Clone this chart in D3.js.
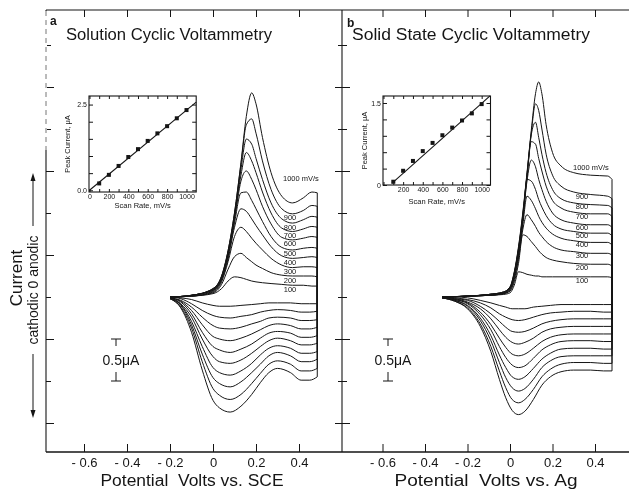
<!DOCTYPE html>
<html>
<head>
<meta charset="utf-8">
<script src="https://cdn.jsdelivr.net/npm/d3@7"></script>
<style>
  body { margin: 0; background: #fff; }
  #chart { will-change: transform; }
  svg { display: block; }
  text { font-family: "Liberation Sans", Arial, sans-serif; fill: #151515; }
</style>
</head>
<body>
<div id="chart"></div>
<script>
// scan rates, mV/s (one trace per rate in each panel)
const rates = [100, 200, 300, 400, 500, 600, 700, 800, 900, 1000]

// panel a: solution CV, potential grid (V vs SCE) and current rows (uA)
const fwdGridA = [-0.20, -0.10, 0.00, 0.04, 0.07, 0.10, 0.13, 0.155, 0.18, 0.20, 0.23, 0.27, 0.32, 0.37, 0.42, 0.46, 0.485]
const fwdA = [
  [0, 0.01, 0.04, 0.10, 0.19, 0.24, 0.23, 0.21, 0.19, 0.18, 0.17, 0.16, 0.15, 0.14, 0.14, 0.13, 0.13],
  [0, 0.01, 0.05, 0.15, 0.33, 0.48, 0.52, 0.47, 0.42, 0.38, 0.34, 0.29, 0.26, 0.25, 0.25, 0.25, 0.24],
  [0, 0.01, 0.06, 0.18, 0.42, 0.72, 0.83, 0.78, 0.70, 0.64, 0.56, 0.46, 0.38, 0.35, 0.36, 0.36, 0.35],
  [0, 0.01, 0.07, 0.20, 0.45, 0.83, 1.05, 1.02, 0.93, 0.85, 0.74, 0.60, 0.49, 0.46, 0.47, 0.48, 0.47],
  [0, 0.02, 0.08, 0.21, 0.48, 0.88, 1.24, 1.25, 1.15, 1.05, 0.90, 0.72, 0.59, 0.56, 0.58, 0.59, 0.58],
  [0, 0.02, 0.08, 0.22, 0.50, 0.92, 1.38, 1.50, 1.40, 1.28, 1.08, 0.87, 0.71, 0.68, 0.70, 0.72, 0.71],
  [0, 0.02, 0.09, 0.23, 0.52, 0.95, 1.45, 1.72, 1.62, 1.48, 1.25, 1.00, 0.82, 0.78, 0.81, 0.84, 0.83],
  [0, 0.02, 0.09, 0.24, 0.53, 0.97, 1.52, 1.88, 1.82, 1.65, 1.40, 1.12, 0.93, 0.88, 0.92, 0.96, 0.95],
  [0, 0.02, 0.10, 0.25, 0.55, 1.00, 1.58, 2.05, 2.12, 1.95, 1.62, 1.28, 1.05, 0.99, 1.03, 1.09, 1.08],
  [0, 0.02, 0.10, 0.25, 0.55, 1.00, 1.60, 2.15, 2.43, 2.30, 1.90, 1.48, 1.20, 1.12, 1.18, 1.25, 1.24]
]
const revGridA = [0.485, 0.45, 0.41, 0.36, 0.30, 0.26, 0.22, 0.18, 0.13, 0.08, 0.03, 0.00, -0.05, -0.10, -0.15, -0.20]
const revA = [
  [-0.08, -0.08, -0.08, -0.07, -0.07, -0.07, -0.08, -0.09, -0.10, -0.11, -0.11, -0.10, -0.07, -0.03, -0.01, 0.00],
  [-0.17, -0.18, -0.18, -0.16, -0.15, -0.16, -0.18, -0.21, -0.23, -0.25, -0.24, -0.22, -0.16, -0.08, -0.02, 0.00],
  [-0.27, -0.28, -0.28, -0.25, -0.24, -0.25, -0.29, -0.32, -0.36, -0.38, -0.37, -0.34, -0.24, -0.12, -0.04, -0.01],
  [-0.36, -0.38, -0.38, -0.34, -0.32, -0.34, -0.39, -0.44, -0.49, -0.52, -0.50, -0.47, -0.33, -0.16, -0.05, -0.01],
  [-0.46, -0.48, -0.48, -0.43, -0.41, -0.43, -0.49, -0.56, -0.62, -0.66, -0.63, -0.59, -0.42, -0.20, -0.06, -0.01],
  [-0.55, -0.57, -0.57, -0.52, -0.49, -0.52, -0.59, -0.67, -0.75, -0.79, -0.77, -0.71, -0.50, -0.24, -0.08, -0.01],
  [-0.65, -0.67, -0.67, -0.61, -0.58, -0.61, -0.69, -0.79, -0.88, -0.93, -0.90, -0.84, -0.59, -0.29, -0.09, -0.01],
  [-0.74, -0.77, -0.77, -0.70, -0.66, -0.70, -0.80, -0.90, -1.01, -1.07, -1.03, -0.96, -0.68, -0.33, -0.10, -0.02],
  [-0.85, -0.88, -0.88, -0.80, -0.76, -0.80, -0.91, -1.03, -1.16, -1.22, -1.17, -1.09, -0.77, -0.37, -0.12, -0.02],
  [-0.95, -0.99, -0.99, -0.90, -0.85, -0.90, -1.02, -1.16, -1.30, -1.37, -1.32, -1.23, -0.87, -0.42, -0.13, -0.02]
]

// panel b: solid state CV (V vs Ag)
const fwdGridB = [-0.32, -0.20, -0.10, -0.03, 0.00, 0.02, 0.04, 0.06, 0.08, 0.10, 0.12, 0.135, 0.15, 0.17, 0.20, 0.24, 0.30, 0.38, 0.46, 0.48]
const fwdB = [
  [0, 0.01, 0.02, 0.03, 0.05, 0.14, 0.30, 0.29, 0.27, 0.26, 0.25, 0.25, 0.24, 0.24, 0.24, 0.24, 0.24, 0.24, 0.24, 0.23],
  [0, 0.01, 0.02, 0.04, 0.07, 0.18, 0.40, 0.74, 0.72, 0.66, 0.60, 0.55, 0.51, 0.47, 0.44, 0.42, 0.40, 0.39, 0.39, 0.37],
  [0, 0.01, 0.02, 0.04, 0.08, 0.21, 0.45, 0.80, 0.98, 0.92, 0.84, 0.77, 0.72, 0.66, 0.60, 0.56, 0.54, 0.52, 0.52, 0.50],
  [0, 0.01, 0.02, 0.04, 0.09, 0.23, 0.48, 0.85, 1.20, 1.15, 1.05, 0.96, 0.89, 0.82, 0.75, 0.70, 0.67, 0.65, 0.65, 0.62],
  [0, 0.01, 0.02, 0.05, 0.10, 0.25, 0.52, 0.90, 1.40, 1.38, 1.28, 1.16, 1.07, 0.97, 0.87, 0.81, 0.78, 0.76, 0.76, 0.73],
  [0, 0.01, 0.03, 0.05, 0.10, 0.26, 0.53, 0.92, 1.38, 1.63, 1.55, 1.40, 1.28, 1.14, 1.00, 0.92, 0.88, 0.86, 0.86, 0.83],
  [0, 0.01, 0.03, 0.05, 0.11, 0.27, 0.55, 0.94, 1.42, 1.85, 1.82, 1.65, 1.50, 1.32, 1.15, 1.06, 1.01, 0.99, 0.99, 0.96],
  [0, 0.01, 0.03, 0.06, 0.11, 0.28, 0.57, 0.96, 1.45, 1.93, 2.08, 1.90, 1.70, 1.48, 1.28, 1.17, 1.12, 1.10, 1.09, 1.06],
  [0, 0.01, 0.03, 0.06, 0.12, 0.29, 0.58, 0.98, 1.46, 1.95, 2.30, 2.22, 2.00, 1.70, 1.45, 1.32, 1.25, 1.22, 1.20, 1.17],
  [0, 0.01, 0.03, 0.06, 0.12, 0.30, 0.60, 1.00, 1.48, 1.98, 2.42, 2.56, 2.42, 2.05, 1.72, 1.56, 1.48, 1.45, 1.44, 1.40]
]
const revGridB = [0.48, 0.44, 0.38, 0.30, 0.24, 0.19, 0.15, 0.11, 0.07, 0.04, 0.01, -0.02, -0.05, -0.09, -0.14, -0.20, -0.26, -0.32]
const revB = [
  [-0.09, -0.09, -0.09, -0.09, -0.09, -0.10, -0.11, -0.12, -0.14, -0.14, -0.14, -0.12, -0.10, -0.07, -0.04, -0.01, 0, 0],
  [-0.18, -0.18, -0.17, -0.17, -0.18, -0.19, -0.21, -0.24, -0.27, -0.28, -0.27, -0.24, -0.20, -0.13, -0.07, -0.03, -0.01, 0],
  [-0.26, -0.26, -0.26, -0.26, -0.27, -0.29, -0.32, -0.37, -0.41, -0.42, -0.41, -0.36, -0.29, -0.20, -0.11, -0.04, -0.02, 0],
  [-0.35, -0.35, -0.35, -0.35, -0.36, -0.38, -0.42, -0.49, -0.54, -0.56, -0.54, -0.48, -0.39, -0.26, -0.14, -0.06, -0.02, 0],
  [-0.44, -0.44, -0.44, -0.44, -0.45, -0.48, -0.53, -0.61, -0.68, -0.70, -0.68, -0.60, -0.49, -0.33, -0.18, -0.07, -0.03, -0.01],
  [-0.53, -0.53, -0.52, -0.52, -0.53, -0.57, -0.63, -0.73, -0.82, -0.84, -0.81, -0.72, -0.59, -0.39, -0.21, -0.08, -0.03, -0.01],
  [-0.62, -0.62, -0.61, -0.61, -0.62, -0.67, -0.74, -0.85, -0.95, -0.98, -0.95, -0.84, -0.69, -0.46, -0.25, -0.10, -0.04, -0.01],
  [-0.70, -0.70, -0.70, -0.70, -0.71, -0.76, -0.84, -0.98, -1.09, -1.12, -1.08, -0.96, -0.78, -0.52, -0.28, -0.11, -0.04, -0.01],
  [-0.79, -0.79, -0.78, -0.78, -0.80, -0.86, -0.95, -1.10, -1.22, -1.26, -1.22, -1.08, -0.88, -0.59, -0.32, -0.13, -0.05, -0.01],
  [-0.88, -0.88, -0.87, -0.87, -0.89, -0.95, -1.05, -1.22, -1.36, -1.40, -1.35, -1.20, -0.98, -0.65, -0.35, -0.14, -0.05, -0.01]
]

// insets: peak current vs scan rate, with the fitted line
const insetPeakA = [0.20, 0.45, 0.71, 0.97, 1.20, 1.44, 1.66, 1.87, 2.10, 2.34]
const insetFitA = [[0, 0], [1100, 2.57]]
const insetPeakB = [0.06, 0.26, 0.44, 0.62, 0.77, 0.91, 1.05, 1.18, 1.31, 1.48]
const insetFitB = [[85, 0.03], [1085, 1.63]]

// axis ticks
const potTicks = [-0.6, -0.4, -0.2, 0, 0.2, 0.4]
const curTicks = [-1.5, -1.0, -0.5, 0, 0.5, 1.0, 1.5, 2.0, 2.5, 3.0]
const rateTicks = [0, 100, 200, 300, 400, 500, 600, 700, 800, 900, 1000]
const rateLabels = [0, 200, 400, 600, 800, 1000]

const W = 629, H = 489
const svg = d3.select('#chart').append('svg').attr('width', W).attr('height', H)

const yCur = d3.scaleLinear().domain([-1.5, 3.0]).range([423, 45])
const xA = d3.scaleLinear().domain([-0.6, 0.4]).range([84, 299])
const xB = d3.scaleLinear().domain([-0.6, 0.4]).range([382.5, 595])

const ink = '#151515'
const potFmt = d => d === 0 ? '0' : (d < 0 ? '- ' + Math.abs(d).toFixed(1) : d.toFixed(1))

// frame lines
svg.append('line').attr('x1', 46).attr('x2', W).attr('y1', 10).attr('y2', 10)
  .attr('stroke', ink).attr('stroke-width', 1.2)
svg.append('line').attr('x1', 46).attr('x2', W).attr('y1', 452).attr('y2', 452)
  .attr('stroke', ink).attr('stroke-width', 1.3)

function drawPanel(p) {
  const g = svg.append('g')

  // left current axis
  g.append('line').attr('x1', p.axisX).attr('x2', p.axisX).attr('y1', 10).attr('y2', 452)
    .attr('stroke', ink).attr('stroke-width', 1.1)
  const yAx = g.append('g').attr('transform', `translate(${p.axisX},0)`)
    .call(d3.axisRight(yCur).tickValues(curTicks).tickSize(8).tickFormat(''))
  yAx.select('.domain').remove()
  yAx.selectAll('.tick line')
    .attr('stroke', ink)
    .attr('x1', d => p.both ? (d % 1 === 0 ? -4 : -7) : 0)
    .attr('x2', d => d % 1 === 0 ? 5 : 8)

  // bottom potential axis
  const xAx = g.append('g').attr('transform', 'translate(0,452)')
    .call(d3.axisBottom(p.x).tickValues(potTicks).tickSize(-8).tickPadding(6).tickFormat(potFmt))
  xAx.select('.domain').remove()
  xAx.selectAll('.tick line').attr('stroke', ink)
  xAx.selectAll('text').attr('font-size', 13).attr('font-family', '"Liberation Sans", Arial, sans-serif').attr('fill', ink)

  // top ticks
  const tAx = g.append('g').attr('transform', 'translate(0,10)')
    .call(d3.axisBottom(p.x).tickValues(potTicks).tickSize(7).tickFormat(''))
  tAx.select('.domain').remove()
  tAx.selectAll('.tick line').attr('stroke', ink)

  // traces: anodic sweep, switching step, cathodic sweep
  const line = d3.line().x(d => p.x(d[0])).y(d => yCur(d[1])).curve(d3.curveMonotoneX)
  const straight = d3.line().x(d => p.x(d[0])).y(d => yCur(d[1]))
  rates.forEach((r, i) => {
    const fPts = p.fGrid.map((v, j) => [v, p.fwd[i][j]])
    const rPts = p.rGrid.map((v, j) => [v, p.rev[i][j]])
    const tg = g.append('g').attr('fill', 'none').attr('stroke', ink).attr('stroke-width', 1)
    tg.append('path').attr('d', line(fPts))
    tg.append('path').attr('d', straight([fPts[fPts.length - 1], rPts[0]]))
    tg.append('path').attr('d', line(rPts))

    // scan-rate label sitting on the trace tail
    const ly = yCur(p.fwd[i][p.labelIdx])
    if (r === 1000) {
      g.append('text').attr('x', p.topLabelX).attr('y', ly + p.topLabelDy)
        .attr('font-size', 7.5).text('1000 mV/s')
    } else {
      g.append('text').attr('x', p.labelX).attr('y', ly + 6.5)
        .attr('text-anchor', 'middle').attr('font-size', 7.5).text(r)
    }
  })

  // 0.5 uA scale bar
  const yTop = yCur(-0.5), yBot = yCur(-1.0), bx = p.barX
  const sb = g.append('g').attr('stroke', ink).attr('stroke-width', 1)
  sb.append('line').attr('x1', bx - 5).attr('x2', bx + 5).attr('y1', yTop).attr('y2', yTop)
  sb.append('line').attr('x1', bx).attr('x2', bx).attr('y1', yTop).attr('y2', yTop + 7)
  sb.append('line').attr('x1', bx).attr('x2', bx).attr('y1', yBot - 9).attr('y2', yBot)
  sb.append('line').attr('x1', bx - 5).attr('x2', bx + 5).attr('y1', yBot).attr('y2', yBot)
  g.append('text').attr('x', bx + 5).attr('y', (yTop + yBot) / 2 + 5)
    .attr('text-anchor', 'middle').attr('font-size', 14).text('0.5\u03BCA')

  // titles
  g.append('text').attr('x', p.letterX).attr('y', p.letterY).attr('font-size', 12)
    .attr('font-weight', 'bold').text(p.letter)
  g.append('text').attr('x', p.titleX).attr('y', 40).attr('font-size', 16)
    .attr('textLength', p.titleLen).attr('lengthAdjust', 'spacingAndGlyphs').text(p.title)
  g.append('text').attr('x', p.xTitleX).attr('y', 486).attr('font-size', 16)
    .attr('text-anchor', 'middle').attr('textLength', 183).attr('lengthAdjust', 'spacingAndGlyphs')
    .style('white-space', 'pre').text(p.xTitle)
}

function drawInset(q) {
  const g = svg.append('g')
  const [x0, x1] = q.x.range(), [y0, y1] = q.y.range()
  g.append('rect').attr('x', x0).attr('y', y1).attr('width', x1 - x0).attr('height', y0 - y1)
    .attr('fill', '#fff').attr('stroke', ink).attr('stroke-width', 1.1)

  const font = sel => sel.selectAll('text').attr('font-size', 7).attr('fill', ink)
    .attr('font-family', '"Liberation Sans", Arial, sans-serif')
  const b = g.append('g').attr('transform', `translate(0,${y0})`)
    .call(d3.axisBottom(q.x).tickValues(rateTicks).tickSize(-3).tickPadding(2)
      .tickFormat(d => q.rateLabels.includes(d) ? d : ''))
  const t = g.append('g').attr('transform', `translate(0,${y1})`)
    .call(d3.axisTop(q.x).tickValues(rateTicks).tickSize(-3).tickFormat(''))
  const l = g.append('g').attr('transform', `translate(${x0},0)`)
    .call(d3.axisLeft(q.y).tickValues(q.yTicks).tickSize(-4).tickPadding(2)
      .tickFormat((d, i) => i === 0 ? q.yLabels[0] : (i === q.yTicks.length - 1 ? q.yLabels[1] : '')))
  const r = g.append('g').attr('transform', `translate(${x1},0)`)
    .call(d3.axisRight(q.y).tickValues(q.yTicks).tickSize(-4).tickFormat(''))
  ;[b, t, l, r].forEach(a => { a.select('.domain').remove(); a.selectAll('.tick line').attr('stroke', ink); font(a) })

  g.append('path').attr('fill', 'none').attr('stroke', ink).attr('stroke-width', 1.1)
    .attr('d', d3.line().x(d => q.x(d[0])).y(d => q.y(d[1]))(q.fit))
  g.selectAll('rect.pt').data(rates).join('rect').attr('class', 'pt')
    .attr('x', d => q.x(d) - 2).attr('y', (d, i) => q.y(q.peak[i]) - 2)
    .attr('width', 4).attr('height', 4).attr('fill', ink)

  g.append('text').attr('x', (x0 + x1) / 2).attr('y', q.xLabY).attr('text-anchor', 'middle')
    .attr('font-size', 7.5).text('Scan Rate, mV/s')
  g.append('text').attr('transform', `translate(${q.yLabX},${(y0 + y1) / 2}) rotate(-90)`)
    .attr('text-anchor', 'middle').attr('font-size', 7.5).text('Peak Current, \u03BCA')
}

drawPanel({
  x: xA, axisX: 46, both: false, fGrid: fwdGridA, fwd: fwdA, rGrid: revGridA, rev: revA,
  labelIdx: 13, labelX: 290, topLabelX: 283, topLabelDy: -22, barX: 116,
  letter: 'a', letterX: 50, letterY: 25, title: 'Solution Cyclic Voltammetry', titleX: 66, titleLen: 206,
  xTitle: 'Potential  Volts vs. SCE', xTitleX: 192
})
drawPanel({
  x: xB, axisX: 342, both: true, fGrid: fwdGridB, fwd: fwdB, rGrid: revGridB, rev: revB,
  labelIdx: 16, labelX: 582, topLabelX: 573, topLabelDy: -3, barX: 388,
  letter: 'b', letterX: 347, letterY: 27, title: 'Solid State Cyclic Voltammetry', titleX: 352, titleLen: 238,
  xTitle: 'Potential  Volts vs. Ag', xTitleX: 486
})

// dashed upper part of panel a axis (faint in the print)
svg.append('line').attr('x1', 46).attr('x2', 46).attr('y1', 11).attr('y2', 150)
  .attr('stroke', '#fff').attr('stroke-width', 2)
svg.append('line').attr('x1', 46).attr('x2', 46).attr('y1', 11).attr('y2', 150)
  .attr('stroke', '#777').attr('stroke-width', 1).attr('stroke-dasharray', '5,4')

drawInset({
  x: d3.scaleLinear().domain([-5, 1100]).range([89, 196.2]),
  y: d3.scaleLinear().domain([-0.05, 2.75]).range([192, 96]),
  yTicks: [0, 0.5, 1.0, 1.5, 2.0, 2.5], yLabels: ['0.0', '2.5'], rateLabels: rateLabels,
  peak: insetPeakA, fit: insetFitA, xLabY: 208, yLabX: 70
})
drawInset({
  x: d3.scaleLinear().domain([-5, 1090]).range([383, 490.5]),
  y: d3.scaleLinear().domain([0, 1.628]).range([185, 96]),
  yTicks: [0, 0.3, 0.6, 0.9, 1.2, 1.5], yLabels: ['0', '1.5'], rateLabels: rateLabels.slice(1),
  peak: insetPeakB, fit: insetFitB, xLabY: 204, yLabX: 367
})

// y-axis title: "Current", with cathodic / anodic direction arrows
svg.append('text').attr('transform', 'translate(22,278) rotate(-90)')
  .attr('text-anchor', 'middle').attr('font-size', 17).text('Current')
svg.append('text').attr('transform', 'translate(38,290) rotate(-90)')
  .attr('text-anchor', 'middle').attr('font-size', 14).text('cathodic 0 anodic')
const arr = svg.append('g').attr('stroke', ink).attr('fill', ink)
arr.append('line').attr('x1', 33).attr('x2', 33).attr('y1', 226).attr('y2', 178)
arr.append('path').attr('d', 'M33,173 L30.5,181 L35.5,181 Z').attr('stroke', 'none')
arr.append('line').attr('x1', 33).attr('x2', 33).attr('y1', 354).attr('y2', 412)
arr.append('path').attr('d', 'M33,418 L30.5,410 L35.5,410 Z').attr('stroke', 'none')
</script>
</body>
</html>
